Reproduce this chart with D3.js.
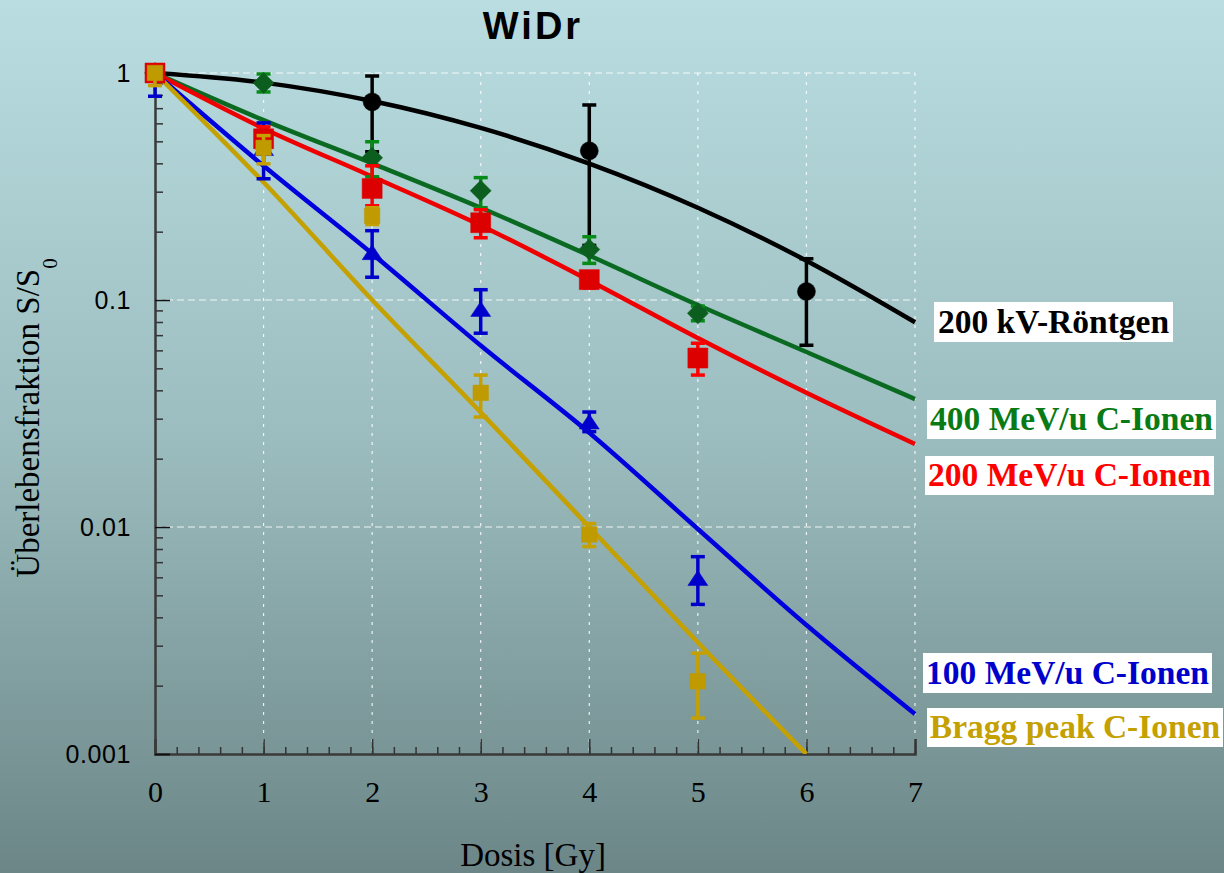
<!DOCTYPE html>
<html>
<head>
<meta charset="utf-8">
<script src="https://cdn.jsdelivr.net/npm/d3@7"></script>
<style>
  body { margin: 0; padding: 0; overflow: hidden; }
  svg { display: block; }
</style>
</head>
<body>
<div id="chart"></div>
<script>
var width = 1224,
  height = 873;

// dose axis of the fitted curves
var fitDose = [0, 1, 2, 3, 4, 5, 6, 7];

// fitted survival curves
var fitRoentgen = [1, 0.907, 0.753, 0.573, 0.399, 0.255, 0.149, 0.0798];
var fit400 = [1, 0.62, 0.40, 0.255, 0.157, 0.095, 0.059, 0.0366];
var fit200 = [1, 0.57, 0.35, 0.213, 0.122, 0.068, 0.039, 0.0232];
var fit100 = [1, 0.39, 0.16, 0.063, 0.026, 0.0098, 0.0037, 0.0015];
var fitBragg = [1, 0.33, 0.10, 0.032, 0.010, 0.0031, 0.001, null];

// measured points: dose, survival, lower and upper error
var roentgenDose = [0, 2, 4, 6];
var roentgenS = [1, 0.746, 0.454, 0.109];
var roentgenLo = [1, 0.45, 0.174, 0.0632];
var roentgenHi = [1, 0.97, 0.723, 0.152];

var c400Dose = [0, 1, 2, 3, 4, 5];
var c400S = [1, 0.904, 0.423, 0.303, 0.167, 0.0874];
var c400Lo = [1, 0.825, 0.349, 0.255, 0.145, 0.081];
var c400Hi = [1, 0.99, 0.498, 0.346, 0.19, 0.094];

var c200Dose = [0, 1, 2, 3, 4, 5];
var c200S = [1, 0.513, 0.31, 0.219, 0.123, 0.0555];
var c200Lo = [1, 0.455, 0.26, 0.188, 0.113, 0.0467];
var c200Hi = [1, 0.579, 0.39, 0.25, 0.133, 0.0645];

var c100Dose = [0, 1, 2, 3, 4, 5];
var c100S = [1, 0.46, 0.16, 0.09, 0.0287, 0.00587];
var c100Lo = [0.79, 0.342, 0.126, 0.0714, 0.0263, 0.00456];
var c100Hi = [1, 0.603, 0.202, 0.111, 0.0321, 0.0074];

var braggDose = [0, 1, 2, 3, 4, 5];
var braggS = [1, 0.468, 0.235, 0.039, 0.00927, 0.00209];
var braggLo = [0.88, 0.398, 0.215, 0.0305, 0.0082, 0.00144];
var braggHi = [1, 0.53, 0.255, 0.0467, 0.01035, 0.00278];

var xTicks = [0, 1, 2, 3, 4, 5, 6, 7];
var yTicks = [1, 0.1, 0.01, 0.001];
var yTickLabels = ["1", "0.1", "0.01", "0.001"];

var legendNames = ["200 kV-Röntgen", "400 MeV/u C-Ionen", "200 MeV/u C-Ionen",
  "100 MeV/u C-Ionen", "Bragg peak C-Ionen"];

var plotLeft = 155, plotRight = 915, plotTop = 73, plotBottom = 754;

var x = d3.scaleLinear().domain([0, 7]).range([plotLeft, plotRight]);
var y = d3.scaleLog().domain([0.001, 1]).range([plotBottom, plotTop]);

var svg = d3.select("#chart").append("svg")
  .attr("width", width)
  .attr("height", height);

// background gradient
var defs = svg.append("defs");
var grad = defs.append("linearGradient")
  .attr("id", "bg")
  .attr("x1", 0).attr("y1", 0).attr("x2", 0).attr("y2", 1);
grad.append("stop").attr("offset", "0%").attr("stop-color", "#b9dde1");
grad.append("stop").attr("offset", "50%").attr("stop-color", "#9cbdbf");
grad.append("stop").attr("offset", "100%").attr("stop-color", "#6c8687");

defs.append("clipPath").attr("id", "plotclip")
  .append("rect")
  .attr("x", plotLeft).attr("y", plotTop - 2)
  .attr("width", plotRight - plotLeft + 3).attr("height", plotBottom - plotTop + 2);

svg.append("rect")
  .attr("width", width).attr("height", height)
  .attr("fill", "url(#bg)");

// grid
svg.append("g").selectAll("line")
  .data(yTicks.slice(0, 3))
  .enter().append("line")
  .attr("x1", plotLeft).attr("x2", plotRight)
  .attr("y1", function(d) { return y(d); })
  .attr("y2", function(d) { return y(d); })
  .attr("stroke", "#ffffff")
  .attr("stroke-opacity", 0.85)
  .attr("stroke-width", 1.2)
  .attr("stroke-dasharray", "7,4");

svg.append("g").selectAll("line")
  .data(xTicks.slice(1))
  .enter().append("line")
  .attr("x1", function(d) { return x(d); })
  .attr("x2", function(d) { return x(d); })
  .attr("y1", plotTop).attr("y2", plotBottom)
  .attr("stroke", "#ffffff")
  .attr("stroke-opacity", 0.85)
  .attr("stroke-width", 1.2)
  .attr("stroke-dasharray", "3,6");

// axes
var xMinor = d3.range(0, 7.01, 0.2).map(function(v) { return Math.round(v * 10) / 10; });
svg.append("g")
  .attr("transform", "translate(0," + plotBottom + ")")
  .call(d3.axisBottom(x).tickValues(xMinor).tickSize(-7).tickFormat(""))
  .call(function(g) {
    g.select(".domain").remove();
    g.selectAll("line").attr("stroke", "#333").attr("stroke-width", 1.5);
  });

var xAxis = svg.append("g")
  .attr("transform", "translate(0," + plotBottom + ")")
  .call(d3.axisBottom(x).tickValues(xTicks).tickSize(-15).tickPadding(27).tickFormat(d3.format("d")));
xAxis.select(".domain").attr("stroke", "#3a3a3a").attr("stroke-width", 2.5);
xAxis.selectAll("line").attr("stroke", "#333").attr("stroke-width", 1.5);
xAxis.selectAll("text")
  .attr("font-family", "'Liberation Serif', 'Times New Roman', serif")
  .attr("font-size", 30)
  .attr("fill", "#000");

var yMinor = [];
[0.001, 0.01, 0.1].forEach(function(dec) {
  for (var k = 2; k <= 9; k++) yMinor.push(dec * k);
});
svg.append("g")
  .attr("transform", "translate(" + plotLeft + ",0)")
  .call(d3.axisLeft(y).tickValues(yMinor).tickSize(-8).tickFormat(""))
  .call(function(g) {
    g.select(".domain").remove();
    g.selectAll("line").attr("stroke", "#333").attr("stroke-width", 1.5);
  });

var yAxis = svg.append("g")
  .attr("transform", "translate(" + plotLeft + ",0)")
  .call(d3.axisLeft(y).tickValues(yTicks).tickSize(-15).tickPadding(24)
    .tickFormat(function(d, i) { return yTickLabels[i]; }));
yAxis.select(".domain").attr("stroke", "#3a3a3a").attr("stroke-width", 2.5);
yAxis.selectAll("line").attr("stroke", "#111").attr("stroke-width", 1.5);
yAxis.selectAll("text")
  .attr("font-family", "'Liberation Sans', Arial, sans-serif")
  .attr("font-size", 25)
  .attr("letter-spacing", 0.6)
  .attr("fill", "#000");

// title and axis titles
svg.append("text")
  .attr("x", 533).attr("y", 39)
  .attr("text-anchor", "middle")
  .attr("font-family", "'Liberation Sans', Arial, sans-serif")
  .attr("font-weight", "bold")
  .attr("font-size", 38)
  .attr("letter-spacing", 3)
  .text("WiDr");

svg.append("text")
  .attr("x", 533).attr("y", 866)
  .attr("text-anchor", "middle")
  .attr("font-family", "'Liberation Serif', 'Times New Roman', serif")
  .attr("font-size", 33)
  .text("Dosis [Gy]");

var ytitle = svg.append("text")
  .attr("transform", "translate(39,418) rotate(-90)")
  .attr("text-anchor", "middle")
  .attr("font-family", "'Liberation Serif', 'Times New Roman', serif")
  .attr("font-size", 33);
ytitle.append("tspan").text("Überlebensfraktion S/S");
ytitle.append("tspan").attr("font-size", 21).attr("dy", 18).text("0");

// series styling
var series = [
  { fit: fitRoentgen, dose: roentgenDose, s: roentgenS, lo: roentgenLo, hi: roentgenHi,
    line: "#000000", mark: "#000000", bar: "#000000", shape: "circle" },
  { fit: fit100, dose: c100Dose, s: c100S, lo: c100Lo, hi: c100Hi,
    line: "#0000dd", mark: "#0000cc", bar: "#0000cc", shape: "triangle" },
  { fit: fit400, dose: c400Dose, s: c400S, lo: c400Lo, hi: c400Hi,
    line: "#0b6a22", mark: "#0b5e1e", bar: "#078a18", shape: "diamond" },
  { fit: fit200, dose: c200Dose, s: c200S, lo: c200Lo, hi: c200Hi,
    line: "#ee0000", mark: "#dd0000", bar: "#ff0000", shape: "square" },
  { fit: fitBragg, dose: braggDose, s: braggS, lo: braggLo, hi: braggHi,
    line: "#c4a000", mark: "#bf9a00", bar: "#c6a000", shape: "smallsquare" }
];

var line = d3.line()
  .defined(function(d) { return d[1] != null; })
  .x(function(d) { return x(d[0]); })
  .y(function(d) { return y(d[1]); })
  .curve(d3.curveMonotoneX);

var curves = svg.append("g").attr("clip-path", "url(#plotclip)");
[0, 2, 3, 1, 4].forEach(function(i) {
  var sr = series[i];
  curves.append("path")
    .datum(fitDose.map(function(d, k) { return [d, sr.fit[k]]; }))
    .attr("d", line)
    .attr("fill", "none")
    .attr("stroke", sr.line)
    .attr("stroke-width", 4.5)
    .attr("stroke-linejoin", "round");
});

function markerPath(shape) {
  if (shape == "circle") return d3.symbol().type(d3.symbolCircle).size(Math.PI * 81)();
  if (shape == "square") return d3.symbol().type(d3.symbolSquare).size(400)();
  if (shape == "smallsquare") return d3.symbol().type(d3.symbolSquare).size(240)();
  if (shape == "diamond") return "M0,-10.5L10.5,0L0,10.5L-10.5,0Z";
  return "M0,-9L10,6L-10,6Z";
}

// error bars and markers
series.forEach(function(sr) {
  var g = svg.append("g");
  var pts = sr.dose.map(function(d, k) {
    return { d: d, s: sr.s[k], lo: sr.lo[k], hi: sr.hi[k] };
  });
  var eb = g.selectAll(".eb").data(pts).enter().append("g");
  eb.append("line")
    .attr("x1", function(p) { return x(p.d); })
    .attr("x2", function(p) { return x(p.d); })
    .attr("y1", function(p) { return y(p.lo); })
    .attr("y2", function(p) { return y(p.hi); })
    .attr("stroke", sr.bar).attr("stroke-width", 3.5);
  ["lo", "hi"].forEach(function(key) {
    eb.filter(function(p) { return p.lo != p.hi; })
      .append("line")
      .attr("x1", function(p) { return x(p.d) - 7; })
      .attr("x2", function(p) { return x(p.d) + 7; })
      .attr("y1", function(p) { return y(p[key]); })
      .attr("y2", function(p) { return y(p[key]); })
      .attr("stroke", sr.bar).attr("stroke-width", 3.5);
  });
  g.selectAll(".mk").data(pts).enter().append("path")
    .attr("d", markerPath(sr.shape))
    .attr("transform", function(p) { return "translate(" + x(p.d) + "," + y(p.s) + ")"; })
    .attr("fill", sr.mark)
    .attr("stroke", sr.mark)
    .attr("stroke-opacity", 0.5)
    .attr("stroke-width", 1);
});

// labels in white boxes at the right
var legendColors = ["#000000", "#0a7a14", "#ff0000", "#0000cc", "#c4a000"];
var legendBox = [[934, 302, 239, 40], [927, 400, 289, 39], [925, 456, 289, 39],
  [923, 653, 289, 40], [927, 708, 296, 39]];
var lg = svg.append("g");
legendNames.forEach(function(name, i) {
  var b = legendBox[i];
  lg.append("rect")
    .attr("x", b[0]).attr("y", b[1])
    .attr("width", b[2]).attr("height", b[3])
    .attr("fill", "#ffffff");
  lg.append("text")
    .attr("x", b[0] + b[2] / 2).attr("y", b[1] + b[3] - 9)
    .attr("text-anchor", "middle")
    .attr("font-family", "'Liberation Serif', 'Times New Roman', serif")
    .attr("font-weight", "bold")
    .attr("font-size", 33.5)
    .attr("fill", legendColors[i])
    .text(name);
});
</script>
</body>
</html>
